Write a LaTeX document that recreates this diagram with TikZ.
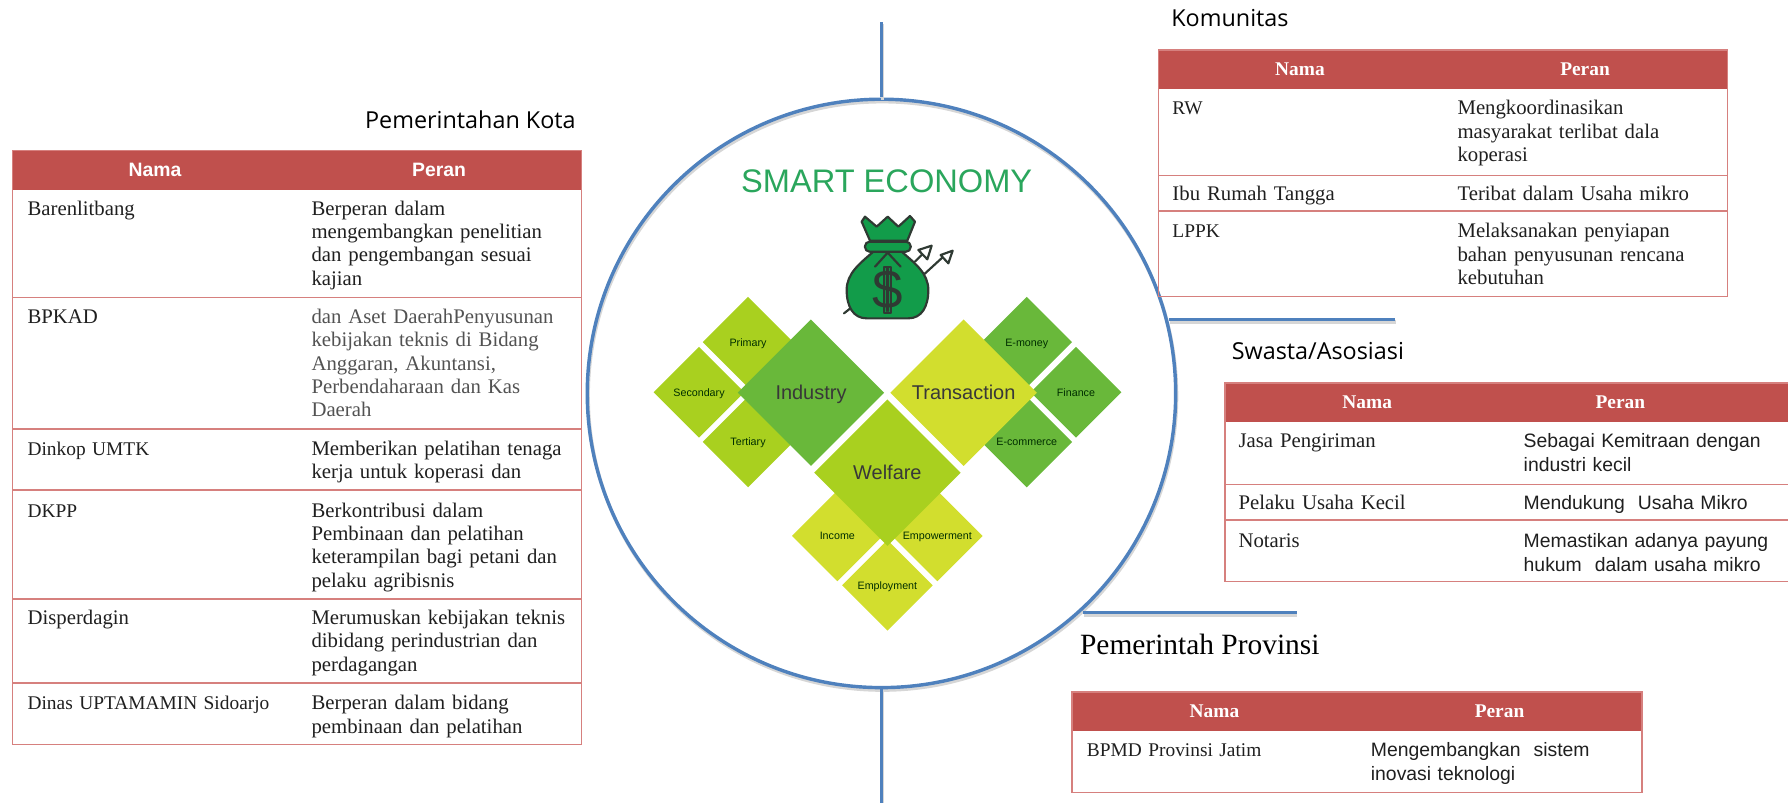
\documentclass[tikz,border=0pt]{standalone}
\usepackage{fontspec}
\setmainfont{Liberation Serif}
\setsansfont{Liberation Sans}
\newfontfamily\titlefont{Open Sans}
\usetikzlibrary{shapes.geometric}
\definecolor{hdrred}{HTML}{C0504D}
\definecolor{framered}{HTML}{D6807E}
\definecolor{ringblue}{HTML}{4F81BD}
\definecolor{gemdark}{HTML}{69B83A}
\definecolor{gemmid}{HTML}{A9D01F}
\definecolor{gemlight}{HTML}{D2DE2E}
\definecolor{bagink}{HTML}{2F3A33}
\definecolor{baggreen}{HTML}{129C4A}
\tikzset{
  ringshade/.style={preaction={draw=black!16,line width=3pt,transform canvas={xshift=0.8pt,yshift=-2.2pt}}},
  ring/.style={circle,ringshade,draw=ringblue,line width=3pt,minimum size=516pt,inner sep=0pt},
  spoke/.style={ringshade,draw=ringblue,line width=3pt},
  frame/.style={draw=framered,line width=1.5pt},
  hdrbar/.style={fill=hdrred,inner sep=0pt,minimum height=34pt,anchor=north west},
  hdrsans/.style={text=white,inner sep=0pt,font=\fontsize{17}{20}\selectfont\sffamily\bfseries},
  hdrserif/.style={text=white,inner sep=0pt,font=\fontsize{17}{20}\selectfont\bfseries},
  cell/.style={anchor=north west,yshift=-1pt,inner sep=0pt,align=left,text width=235pt,text=black!88,font=\fontsize{18.2}{20.5}\selectfont,execute at begin node=\strut},
  celltight/.style={cell,font=\fontsize{17}{20.5}\selectfont},
  cellsans/.style={cell,font=\fontsize{17}{20.5}\selectfont\sffamily},
  tbltitle/.style={anchor=west,inner sep=0pt,font=\fontsize{20.5}{24}\selectfont\titlefont},
  smallgem/.style={diamond,aspect=1,inner sep=0pt,minimum width=79.6pt,minimum height=79.6pt,fill=#1,text=black!70!green!60!black,text height=7pt,text depth=0pt,font=\fontsize{9.4}{11}\selectfont\sffamily},
  biggem/.style={diamond,aspect=1,inner sep=0pt,minimum width=128.6pt,minimum height=128.6pt,fill=#1,text=black!78,text height=12.5pt,text depth=0pt,font=\fontsize{17.5}{20}\selectfont\sffamily},
  bagline/.style={draw=bagink,line width=1.9pt,line join=round,line cap=round}
}
\begin{document}
\begin{tikzpicture}[x=1pt,y=-1pt]
\useasboundingbox (0,0) rectangle (1568,704);
% circle and its spokes
\coordinate (toptip) at (773,19);
\coordinate (bottip) at (773,704);
\coordinate (komtip) at (1223,280);
\coordinate (provtip) at (1137,537);
\node[ring] (econ) at (773,345) {};
\draw[spoke] (econ.north) -- (toptip);
\draw[spoke] (econ.south) -- (bottip);
\draw[spoke] (econ.14.5 |- komtip) -- (komtip);
\draw[spoke] (econ.-47.8 |- provtip) -- (provtip);
% centre
\node[inner sep=0pt,text=baggreen!90!white,font=\fontsize{28.6}{32}\selectfont\sffamily] (smart) at (777.6,159.3) {SMART ECONOMY};
\begin{scope}[shift={(719.1,175.4)},scale=0.2923]
\draw[bagline] (72,340) -- (95,322);
\draw[bagline] (310,225) -- (370,170);
\draw[bagline] (285,185) -- (310,160);
\draw[bagline,fill=white] (398,152) -- (362,165) -- (385,190) -- cycle;
\draw[bagline,fill=white] (335,137) -- (295,150) -- (322,178) -- cycle;
\draw[bagline,fill=baggreen] (160,155) .. controls (120,190) and (80,220) .. (80,270) .. controls (80,320) and (100,355) .. (140,355) -- (265,355) .. controls (305,355) and (325,320) .. (325,270) .. controls (325,220) and (285,190) .. (245,155) -- cycle;
\draw[bagline,fill=baggreen] (135,50) -- (170,80) -- (203,50) -- (235,80) -- (270,48) -- (285,65) -- (262,122) -- (150,122) -- (125,65) -- cycle;
\draw[bagline,fill=baggreen,rounded corners=4pt] (135,125) rectangle (272,155);
\draw[bagline] (165,200) -- (203,158) -- (242,200);
\draw[bagline,fill=baggreen] (193,200) rectangle (212,340);
\node[inner sep=0pt,text=bagink,font=\fontsize{48}{50}\selectfont\sffamily] (dollar) at (203,270) {\$};
\end{scope}
\node[smallgem=gemmid] (primary) at (656,300) {Primary};
\node[smallgem=gemmid] (secondary) at (613,344) {Secondary};
\node[smallgem=gemmid] (tertiary) at (656,387.6) {Tertiary};
\node[smallgem=gemdark] (emoney) at (900.4,300) {E-money};
\node[smallgem=gemdark] (finance) at (943.6,344) {Finance};
\node[smallgem=gemdark] (ecommerce) at (900.4,387.6) {E-commerce};
\node[smallgem=gemlight] (income) at (734.3,470) {Income};
\node[smallgem=gemlight] (empower) at (822,470) {Empowerment};
\node[smallgem=gemlight] (employ) at (778.2,513.3) {Employment};
\node[biggem=gemdark] (industry) at (711.2,344.4) {Industry};
\node[biggem=gemlight] (transaction) at (845.1,344.4) {Transaction};
\node[biggem=gemmid] (welfare) at (778.2,414.5) {Welfare};
% Pemerintahan Kota
\node[tbltitle] (kotatitle) at (320,105) {Pemerintahan Kota};
\node[hdrbar,minimum width=499pt] (kotahdr) at (11,132) {};
\draw[frame] (11,132) rectangle (510,653);
\draw[frame] (11,261) -- (510,261);
\draw[frame] (11,376) -- (510,376);
\draw[frame] (11,430) -- (510,430);
\draw[frame] (11,525) -- (510,525);
\draw[frame] (11,599) -- (510,599);
\node[hdrsans] (kotanama) at (136,149) {Nama};
\node[hdrsans] (kotaperan) at (385,149) {Peran};
\node[cell] (kota1a) at (24,173) {Barenlitbang};
\node[cell] (kota1b) at (273,173) {Berperan dalam\\mengembangkan penelitian\\dan pengembangan sesuai\\kajian};
\node[cell] (kota2a) at (24,268) {BPKAD};
\node[cell,text=black!68] (kota2b) at (273,268) {dan Aset DaerahPenyusunan\\kebijakan teknis di Bidang\\Anggaran, Akuntansi,\\Perbendaharaan dan Kas\\Daerah};
\node[celltight] (kota3a) at (24,384) {Dinkop UMTK};
\node[cell] (kota3b) at (273,384) {Memberikan pelatihan tenaga\\kerja untuk koperasi dan};
\node[celltight] (kota4a) at (24,438) {DKPP};
\node[cell] (kota4b) at (273,438) {Berkontribusi dalam\\Pembinaan dan pelatihan\\keterampilan bagi petani dan\\pelaku agribisnis};
\node[cell] (kota5a) at (24,532) {Disperdagin};
\node[cell] (kota5b) at (273,532) {Merumuskan kebijakan teknis\\dibidang perindustrian dan\\perdagangan};
\node[celltight] (kota6a) at (24,607) {Dinas UPTAMAMIN Sidoarjo};
\node[cell] (kota6b) at (273,607) {Berperan dalam bidang\\pembinaan dan pelatihan};
% Komunitas
\node[tbltitle] (komtitle) at (1027,16) {Komunitas};
\node[hdrbar,minimum width=499pt] (komhdr) at (1016,44) {};
\draw[frame] (1016,44) rectangle (1515,260);
\draw[frame] (1016,154) -- (1515,154);
\draw[frame] (1016,185) -- (1515,185);
\node[hdrserif] (komnama) at (1140,61) {Nama};
\node[hdrserif] (komperan) at (1390,61) {Peran};
\node[celltight] (kom1a) at (1028,85) {RW};
\node[cell] (kom1b) at (1278,85) {Mengkoordinasikan\\masyarakat terlibat dala\\koperasi};
\node[cell] (kom2a) at (1028,160) {Ibu Rumah Tangga};
\node[cell] (kom2b) at (1278,160) {Teribat dalam Usaha mikro};
\node[celltight] (kom3a) at (1028,193) {LPPK};
\node[cell] (kom3b) at (1278,193) {Melaksanakan penyiapan\\bahan penyusunan rencana\\kebutuhan};
% Swasta/Asosiasi
\node[tbltitle] (swatitle) at (1080,308) {Swasta/Asosiasi};
\node[hdrbar,minimum width=494pt] (swahdr) at (1074,336) {};
\draw[frame] (1568,510) -- (1074,510) -- (1074,336) -- (1568,336);
\draw[frame] (1074,425) -- (1568,425);
\draw[frame] (1074,456) -- (1568,456);
\node[hdrserif] (swanama) at (1199,353) {Nama};
\node[hdrserif] (swaperan) at (1421,353) {Peran};
\node[cell] (swa1a) at (1086,377) {Jasa Pengiriman};
\node[cellsans] (swa1b) at (1336,377) {Sebagai Kemitraan dengan\\industri kecil};
\node[cell] (swa2a) at (1086,431) {Pelaku Usaha Kecil};
\node[cellsans] (swa2b) at (1336,431) {Mendukung\ \ Usaha Mikro};
\node[cell] (swa3a) at (1086,465) {Notaris};
\node[cellsans] (swa3b) at (1336,465) {Memastikan adanya payung\\hukum\ \ dalam usaha mikro};
% Pemerintah Provinsi
\node[tbltitle,font=\fontsize{25.8}{28}\selectfont] (provtitle) at (947,565) {Pemerintah Provinsi};
\node[hdrbar,minimum width=500pt] (provhdr) at (940,607) {};
\draw[frame] (940,607) rectangle (1440,695);
\node[hdrserif] (provnama) at (1065,624) {Nama};
\node[hdrserif] (provperan) at (1315,624) {Peran};
\node[celltight] (prov1a) at (953,648) {BPMD Provinsi Jatim};
\node[cellsans] (prov1b) at (1202,648) {Mengembangkan\ \ sistem\\inovasi teknologi};
\end{tikzpicture}
\end{document}
